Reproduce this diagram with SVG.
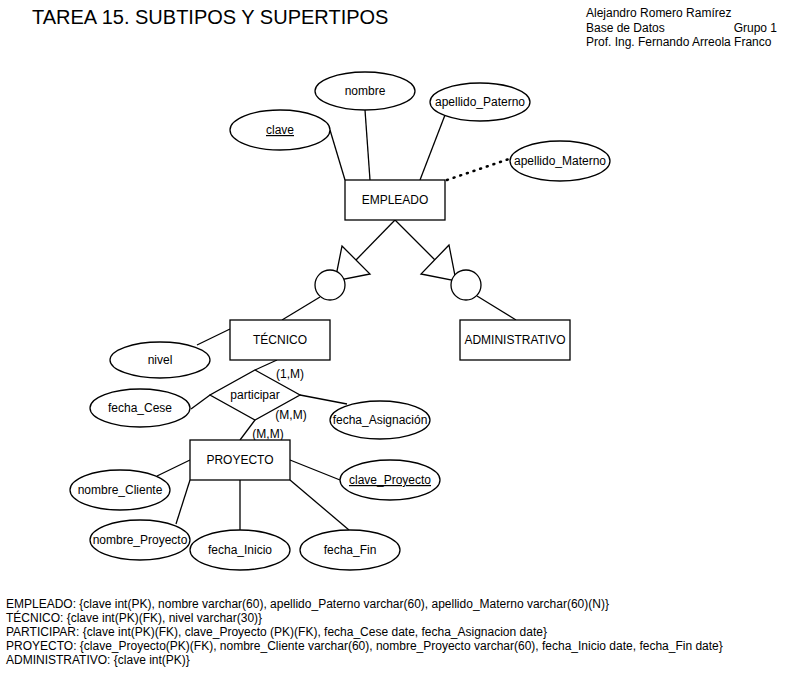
<svg xmlns="http://www.w3.org/2000/svg" width="791" height="674" viewBox="0 0 791 674">
<defs>
<style>
text{font-family:"Liberation Sans",Arial,sans-serif;font-size:12px;fill:#000}
.c{text-anchor:middle}
.u{text-decoration:underline}
.shape{fill:#fff;stroke:#000;stroke-width:1.3}
.ln{stroke:#000;stroke-width:1.3;fill:none}
.dot{stroke:#000;stroke-width:2.5;fill:none;stroke-dasharray:1 6;stroke-linecap:round}
.title{font-size:20px}
</style>
</defs>
<rect width="791" height="674" fill="#fff"/>
<text class="title" x="32" y="24">TAREA 15. SUBTIPOS Y SUPERTIPOS</text>
<text x="586" y="17">Alejandro Romero Ramírez</text>
<text x="586" y="32">Base de Datos</text>
<text x="777" y="32" text-anchor="end">Grupo 1</text>
<text x="586" y="46">Prof. Ing. Fernando Arreola Franco</text>

<g id="connectors">
<line class="ln" x1="330" y1="130" x2="345" y2="180"/>
<line class="ln" x1="365" y1="110" x2="370" y2="180"/>
<line class="ln" x1="445" y1="115" x2="420" y2="180"/>
<line class="dot" x1="447" y1="180" x2="509" y2="159"/>
<line class="ln" x1="395" y1="220" x2="356" y2="260"/>
<line class="ln" x1="395" y1="220" x2="435" y2="260"/>
<line class="ln" x1="320" y1="297" x2="282" y2="320"/>
<line class="ln" x1="477" y1="296" x2="516" y2="320"/>
<line class="ln" x1="197" y1="345" x2="230" y2="329"/>
<line class="ln" x1="277" y1="360" x2="255" y2="370"/>
<line class="ln" x1="191" y1="409" x2="210" y2="395"/>
<line class="ln" x1="300" y1="395" x2="347" y2="404"/>
<line class="ln" x1="255" y1="420" x2="240" y2="440"/>
<line class="ln" x1="190" y1="460" x2="157" y2="476"/>
<line class="ln" x1="190" y1="480" x2="176" y2="524"/>
<line class="ln" x1="240" y1="480" x2="240" y2="530"/>
<line class="ln" x1="290" y1="480" x2="349" y2="530"/>
<line class="ln" x1="290" y1="460" x2="340" y2="480"/>
</g>

<g id="clave"><ellipse class="shape" cx="280" cy="130" rx="50" ry="20"/><text class="c u" x="280" y="134">clave</text></g>
<g id="nombre"><ellipse class="shape" cx="365" cy="91" rx="50" ry="19"/><text class="c" x="365" y="95">nombre</text></g>
<g id="apellido_Paterno"><ellipse class="shape" cx="480" cy="102" rx="50" ry="19"/><text class="c" x="480" y="106">apellido_Paterno</text></g>
<g id="apellido_Materno"><ellipse class="shape" cx="560" cy="161" rx="50" ry="20"/><text class="c" x="560" y="165">apellido_Materno</text></g>
<g id="empleado"><rect class="shape" x="345" y="180" width="100" height="40"/><text class="c" x="395" y="204">EMPLEADO</text></g>

<g id="isa_tecnico">
<polygon class="shape" points="342,246 370,274 335,281"/>
<circle class="shape" cx="330" cy="285" r="15"/>
</g>
<g id="isa_administrativo">
<polygon class="shape" points="449,245 421,274 456,281"/>
<circle class="shape" cx="466" cy="285" r="15"/>
</g>

<g id="tecnico"><rect class="shape" x="230" y="320" width="100" height="40"/><text class="c" x="280" y="344">TÉCNICO</text></g>
<g id="administrativo"><rect class="shape" x="460" y="320" width="110" height="40"/><text class="c" x="515" y="344">ADMINISTRATIVO</text></g>
<g id="nivel"><ellipse class="shape" cx="160" cy="360" rx="50" ry="18"/><text class="c" x="160" y="364">nivel</text></g>

<g id="participar"><polygon class="shape" points="255,370 300,395 255,420 210,395"/><text class="c" x="255" y="399">participar</text></g>
<g id="fecha_Cese"><ellipse class="shape" cx="140" cy="408" rx="50" ry="19"/><text class="c" x="140" y="412">fecha_Cese</text></g>
<g id="fecha_Asignacion"><ellipse class="shape" cx="380" cy="420" rx="50" ry="19"/><text class="c" x="380" y="424">fecha_Asignación</text></g>

<g id="labels">
<text class="c" x="290" y="378">(1,M)</text>
<text class="c" x="291" y="419">(M,M)</text>
<text class="c" x="268" y="438">(M,M)</text>
</g>

<g id="proyecto"><rect class="shape" x="190" y="440" width="100" height="40"/><text class="c" x="240" y="464">PROYECTO</text></g>
<g id="nombre_Cliente"><ellipse class="shape" cx="120" cy="490" rx="50" ry="20"/><text class="c" x="120" y="494">nombre_Cliente</text></g>
<g id="nombre_Proyecto"><ellipse class="shape" cx="140" cy="540" rx="50" ry="20"/><text class="c" x="140" y="544">nombre_Proyecto</text></g>
<g id="fecha_Inicio"><ellipse class="shape" cx="240" cy="550" rx="50" ry="20"/><text class="c" x="240" y="554">fecha_Inicio</text></g>
<g id="fecha_Fin"><ellipse class="shape" cx="350" cy="550" rx="50" ry="20"/><text class="c" x="350" y="554">fecha_Fin</text></g>
<g id="clave_Proyecto"><ellipse class="shape" cx="390" cy="480" rx="50" ry="20"/><text class="c u" x="390" y="484">clave_Proyecto</text></g>

<g id="schema">
<text x="6" y="608">EMPLEADO: {clave int(PK), nombre varchar(60), apellido_Paterno varchar(60), apellido_Materno varchar(60)(N)}</text>
<text x="6" y="622">TÉCNICO: {clave int(PK)(FK), nivel varchar(30)}</text>
<text x="6" y="636">PARTICIPAR: {clave int(PK)(FK), clave_Proyecto (PK)(FK), fecha_Cese date, fecha_Asignacion date}</text>
<text x="6" y="650">PROYECTO: {clave_Proyecto(PK)(FK), nombre_Cliente varchar(60), nombre_Proyecto varchar(60), fecha_Inicio date, fecha_Fin date}</text>
<text x="6" y="664">ADMINISTRATIVO: {clave int(PK)}</text>
</g>
</svg>
